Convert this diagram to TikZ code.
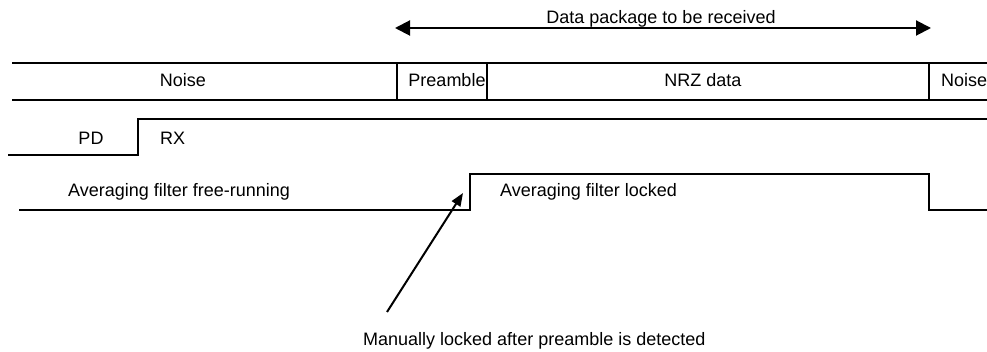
\documentclass[tikz,border=0pt]{standalone}
\usepackage{fontspec}
\setmainfont{Liberation Sans}
\usetikzlibrary{arrows.meta}
\begin{document}
\begin{tikzpicture}[x=1pt,y=-1pt,
  lbl/.style={inner sep=0pt, font=\fontsize{18}{20}\selectfont},
  heavy/.style={line width=2pt},
  light/.style={line width=1.2pt},
  bigtip/.style={Triangle[length=15pt,width=15pt]}]
\useasboundingbox (0,0) rectangle (987,352);

% span of the received data package
\coordinate (pkgL) at (395,28);
\coordinate (pkgR) at (931,28);
\draw[heavy,{Triangle[length=15pt,width=15pt]}-{Triangle[length=15pt,width=15pt]}] (pkgL) -- (pkgR);
\node[lbl,anchor=base] (pkg) at (661,24) {Data package to be received};

% frame contents
\draw[heavy] (12,63) -- (987,63);
\draw[light] (12,100) -- (987,100);
\draw[light] (397,63) -- (397,100);
\draw[light] (487,63) -- (487,100);
\draw[light] (929,63) -- (929,100);
\node[lbl,anchor=base] (noiseA) at (183,87) {Noise};
\node[lbl,anchor=base] (pre) at (447,87) {Preamble};
\node[lbl,anchor=base] (nrz) at (703,87) {NRZ data};
\node[lbl,anchor=base west] (noiseB) at (941,87) {Noise};

% power-down / receive state
\draw[heavy] (8,155) -- (138,155) -- (138,119) -- (987,119);
\node[lbl,anchor=base] (pd) at (91,145) {PD};
\node[lbl,anchor=base west] (rx) at (160,145) {RX};

% averaging filter state
\draw[line width=1.6pt] (19,210) -- (470,210) -- (470,174) -- (929,174) -- (929,210) -- (987,210);
\node[lbl,anchor=base west] (free) at (68,197) {Averaging filter free-running};
\node[lbl,anchor=base west] (lock) at (500,197) {Averaging filter locked};

% lock event annotation
\node[lbl,anchor=base west] (note) at (363,345) {Manually locked after preamble is detected};
\coordinate (tail) at (387,312);
\coordinate (tip) at (463,193);
\draw[heavy,-{Triangle[length=13pt,width=10pt]}] (tail) -- (tip);
\end{tikzpicture}
\end{document}
